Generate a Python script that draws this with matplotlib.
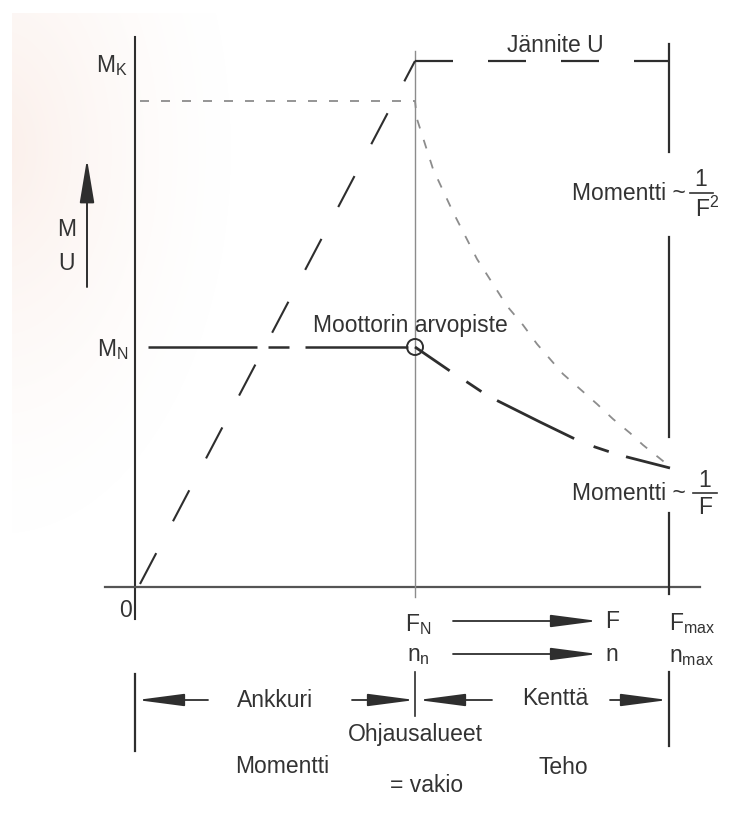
import numpy as np
import matplotlib.pyplot as plt

plt.rcParams['font.family'] = ['Liberation Sans', 'DejaVu Sans']
plt.rcParams['mathtext.fontset'] = 'custom'
plt.rcParams['mathtext.rm'] = 'Liberation Sans'
plt.rcParams['mathtext.it'] = 'Liberation Sans'
plt.rcParams['mathtext.default'] = 'regular'
plt.rcParams['lines.scale_dashes'] = False

# diagram coordinates (pixels, y grows downwards)
axis_x, axis_y = 135, 588
f_n_x, f_max_x = 415, 669
u_top_y = 62        # voltage U limit
m_k_y = 102         # pull-out torque M_K
m_n_y = 348         # rated torque M_N

# voltage ramp 0 -> F_N, then constant
u_ramp_x = [140, f_n_x]
u_ramp_y = [585, u_top_y]
u_const_x = [f_n_x, f_max_x]

# torque ~ 1/F (field weakening)
m1_x = [415, 450, 467, 482, 498, 540, 575, 595, 610, 627, 670]
m1_y = [348, 372, 383, 393, 402, 423, 440, 448, 453, 458, 469]

# pull-out torque ~ 1/F^2
m2_x = [140, 415, 417, 433, 453, 477, 507, 523, 537, 550, 563, 580, 597, 613, 630, 643, 663, 670]
m2_y = [102, 102, 120, 170, 213, 260, 307, 326, 345, 360, 375, 390, 405, 420, 434, 446, 462, 469]

PT = 0.72  # px -> pt at dpi 100
INK = '#2e2e2e'
GREY = '#8c8c8c'
FS = 16.5

fig = plt.figure(figsize=(7.45, 8.2), dpi=100)
ax = fig.add_axes([0, 0, 1, 1])
ax.set_xlim(0, 745)
ax.set_ylim(820, 0)
ax.axis('off')

# faint paper tint of the scan, top left
yy, xx = np.mgrid[0:820, 0:745]
tint = np.clip(1 - np.hypot(xx / 240, (yy - 150) / 400), 0, 1) ** 1.5
img = np.ones((820, 745, 4))
img[..., 0] = 0.97
img[..., 1] = 0.88
img[..., 2] = 0.84
img[..., 3] = tint * 0.5
img[:, :12, 3] = 0
img[:14, :, 3] = 0
ax.imshow(img, extent=(0, 745, 820, 0), zorder=0, aspect='auto')

# axes
ax.plot([axis_x, axis_x], [38, 620], color=INK, lw=1.5)
ax.plot([105, 700], [axis_y, axis_y], color='#555555', lw=1.6)
ax.plot([f_n_x, f_n_x], [52, 598], color=GREY, lw=1.0)
ax.plot([f_n_x, f_n_x], [673, 717], color=INK, lw=1.2)
for y0, y1 in [(45, 153), (238, 438), (514, 595), (673, 747)]:
    ax.plot([f_max_x, f_max_x], [y0, y1], color=INK, lw=1.6)
ax.plot([axis_x, axis_x], [675, 752], color=INK, lw=1.6)

# voltage
ln, = ax.plot(u_ramp_x[::-1], u_ramp_y[::-1], color=INK, lw=1.5)
ln.set_linestyle((12 * PT, [35 * PT, 36 * PT]))
ln, = ax.plot(u_const_x, [u_top_y, u_top_y], color=INK, lw=1.6)
ln.set_linestyle((0, [38 * PT, 35 * PT]))

# rated torque line and 1/F branch
ln, = ax.plot([148, 408], [m_n_y, m_n_y], color=INK, lw=1.8)
ln.set_linestyle((0, [109 * PT, 11 * PT, 21 * PT, 16 * PT, 110 * PT, 10 * PT]))
ln, = ax.plot(m1_x, m1_y, color=INK, lw=2.0)
ln.set_linestyle((0, [42 * PT, 20 * PT, 18 * PT, 18 * PT, 86 * PT, 21 * PT,
                      16 * PT, 18 * PT, 60 * PT, 10 * PT]))

# pull-out torque
ln, = ax.plot(m2_x, m2_y, color=GREY, lw=1.3)
ln.set_linestyle((0, [9 * PT, 12 * PT]))

ax.add_patch(plt.Circle((f_n_x, m_n_y), 8, fill=False, ec=INK, lw=1.4, zorder=5))

# M/U arrow
ax.annotate('', xy=(87, 160), xytext=(87, 288),
            arrowprops=dict(arrowstyle='-|>,head_length=2.7,head_width=0.45',
                            mutation_scale=10, color=INK, lw=1.4,
                            shrinkA=0, shrinkB=0))

# F and n arrows, control range arrows
arrows = [((453, 622), (598, 622)), ((453, 655), (598, 655)),
          ((208, 701), (137, 701)), ((352, 701), (415, 701)),
          ((492, 701), (418, 701)), ((610, 701), (668, 701))]
for tail, tip in arrows:
    ax.annotate('', xy=tip, xytext=tail,
                arrowprops=dict(arrowstyle='-|>,head_length=2.9,head_width=0.38',
                                mutation_scale=10, color=INK, lw=1.3,
                                shrinkA=0, shrinkB=0))

tk = dict(color='#333333', fontsize=FS)
ax.text(128, 66, '$M_K$', ha='right', va='center', **tk)
ax.text(128, 350, '$M_N$', ha='right', va='center', **tk)
ax.text(67, 229, 'M', ha='center', va='center', **tk)
ax.text(67, 264, 'U', ha='center', va='center', **tk)
ax.text(126, 611, '0', ha='center', va='center', **tk)
ax.text(555, 45, 'Jännite U', ha='center', va='center', **tk)
ax.text(313, 326, 'Moottorin arvopiste', ha='left', va='center', **tk)

# Momentti ~ 1/F^2 and ~ 1/F
ax.text(572, 193, 'Momentti ~', ha='left', va='center', **tk)
ax.text(701, 180, '1', ha='center', va='center', **tk)
ax.plot([690, 713], [194, 194], color='#333333', lw=1.2)
ax.text(695, 209, '$F^2$', ha='left', va='center', **tk)
ax.text(572, 494, 'Momentti ~', ha='left', va='center', **tk)
ax.text(705, 481, '1', ha='center', va='center', **tk)
ax.plot([693, 717], [494, 494], color='#333333', lw=1.2)
ax.text(705, 508, 'F', ha='center', va='center', **tk)

ax.text(418, 625, '$F_N$', ha='center', va='center', **tk)
ax.text(418, 656, '$n_n$', ha='center', va='center', **tk)
ax.text(612, 622, 'F', ha='center', va='center', **tk)
ax.text(612, 655, 'n', ha='center', va='center', **tk)
ax.text(692, 624, '$F_{max}$', ha='center', va='center', **tk)
ax.text(692, 657, '$n_{max}$', ha='center', va='center', **tk)
ax.text(275, 701, 'Ankkuri', ha='center', va='center', **tk)
ax.text(555, 699, 'Kenttä', ha='center', va='center', **tk)
ax.text(415, 735, 'Ohjausalueet', ha='center', va='center', **tk)
ax.text(282, 767, 'Momentti', ha='center', va='center', **tk)
ax.text(563, 768, 'Teho', ha='center', va='center', **tk)
ax.text(427, 786, '= vakio', ha='center', va='center', **tk)

fig.savefig('out.png', dpi=100)
